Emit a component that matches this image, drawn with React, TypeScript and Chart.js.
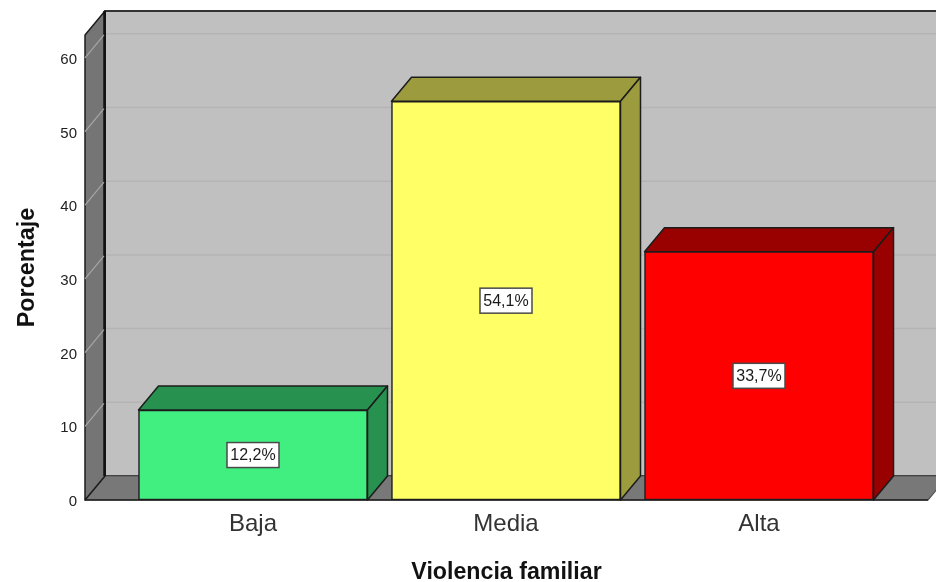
import React, { useEffect, useRef } from "react";
import { Chart, registerables } from "chart.js";

Chart.register(...registerables);

const categories = ["Baja", "Media", "Alta"];
const percentages = [12.2, 54.1, 33.7];
const percentLabels = ["12,2%", "54,1%", "33,7%"];
const frontColors = ["#41ee80", "#ffff66", "#ff0000"];
const sideColors = ["#27914f", "#9c9c3f", "#990000"];
const yTicks = [0, 10, 20, 30, 40, 50, 60];

const DX = 20;
const DY = 24;
const FONT = '"Liberation Sans", Arial, sans-serif';
const LINE = "#1c1c1c";

const poly = (ctx: CanvasRenderingContext2D, pts: number[][], fill: string, stroke = LINE, lw = 1.5) => {
  ctx.beginPath();
  pts.forEach((p, i) => (i ? ctx.lineTo(p[0], p[1]) : ctx.moveTo(p[0], p[1])));
  ctx.closePath();
  ctx.fillStyle = fill;
  ctx.fill();
  ctx.strokeStyle = stroke;
  ctx.lineWidth = lw;
  ctx.lineJoin = "round";
  ctx.stroke();
};

const box3d = {
  id: "box3d",
  beforeDatasetsDraw(chart: any) {
    const { ctx, chartArea: a, scales } = chart;
    const y = scales.y;
    ctx.save();
    // back wall
    poly(ctx, [[a.left + DX, a.top - DY], [a.right + DX, a.top - DY], [a.right + DX, a.bottom - DY], [a.left + DX, a.bottom - DY]], "#c0c0c0", "#333333", 2);
    // floor
    poly(ctx, [[a.left, a.bottom], [a.left + DX, a.bottom - DY], [a.right + DX, a.bottom - DY], [a.right, a.bottom]], "#787878", "#555555", 1.2);
    // left wall
    poly(ctx, [[a.left, a.top], [a.left + DX, a.top - DY], [a.left + DX, a.bottom - DY], [a.left, a.bottom]], "#757575");
    ctx.beginPath();
    ctx.moveTo(a.left + DX - 0.5, a.top - DY);
    ctx.lineTo(a.left + DX - 0.5, a.bottom - DY);
    ctx.lineWidth = 2.5;
    ctx.strokeStyle = "#111111";
    ctx.stroke();
    // gridlines
    yTicks.slice(1).forEach((v) => {
      const py = y.getPixelForValue(v);
      ctx.beginPath();
      ctx.moveTo(a.left + DX + 1, py - DY);
      ctx.lineTo(a.right + DX, py - DY);
      ctx.strokeStyle = "#b4b4b4";
      ctx.lineWidth = 1.5;
      ctx.stroke();
      ctx.beginPath();
      ctx.moveTo(a.left, py);
      ctx.lineTo(a.left + DX - 1, py - DY + 1);
      ctx.strokeStyle = "#a6a6a6";
      ctx.lineWidth = 1.2;
      ctx.stroke();
    });
    // bar depth faces
    const meta = chart.getDatasetMeta(0);
    meta.data.forEach((el: any, i: number) => {
      const l = el.x - el.width / 2;
      const r = el.x + el.width / 2;
      const t = el.y;
      const b = el.base;
      poly(ctx, [[l, t], [l + DX, t - DY], [r + DX, t - DY], [r, t]], sideColors[i]);
      poly(ctx, [[r, t], [r + DX, t - DY], [r + DX, b - DY], [r, b]], sideColors[i]);
    });
    ctx.restore();
  },
  afterDatasetsDraw(chart: any) {
    const { ctx, scales } = chart;
    const y = scales.y;
    const meta = chart.getDatasetMeta(0);
    ctx.save();
    ctx.font = `16px ${FONT}`;
    ctx.textAlign = "center";
    ctx.textBaseline = "middle";
    meta.data.forEach((el: any, i: number) => {
      const cy = y.getPixelForValue(percentages[i] / 2);
      const w = 52;
      const h = 25;
      ctx.fillStyle = "#ffffff";
      ctx.fillRect(el.x - w / 2, cy - h / 2, w, h);
      ctx.strokeStyle = "#4a4a4a";
      ctx.lineWidth = 1.5;
      ctx.strokeRect(el.x - w / 2, cy - h / 2, w, h);
      ctx.fillStyle = "#1a1a1a";
      ctx.fillText(percentLabels[i], el.x, cy + 0.5);
    });
    // front axis line
    const a = chart.chartArea;
    ctx.beginPath();
    ctx.moveTo(a.left, a.bottom);
    ctx.lineTo(a.right, a.bottom);
    ctx.strokeStyle = LINE;
    ctx.lineWidth = 1.5;
    ctx.stroke();
    ctx.restore();
  },
};

export default function App() {
  const ref = useRef<HTMLCanvasElement>(null);
  useEffect(() => {
    const chart = new Chart(ref.current as HTMLCanvasElement, {
      type: "bar",
      data: {
        datasets: [
          {
            data: percentages.map((v, i) => ({ x: i, y: v })),
            backgroundColor: frontColors,
            borderColor: LINE,
            borderWidth: 1.5,
            borderSkipped: false,
            barThickness: 229,
            clip: false,
          } as any,
        ],
      },
      options: {
        animation: false,
        responsive: false,
        devicePixelRatio: 1,
        layout: { padding: { top: 35, right: 8, left: 0, bottom: 0 } },
        plugins: { legend: { display: false }, tooltip: { enabled: false } },
        scales: {
          x: {
            type: "linear",
            offset: false,
            min: -0.664,
            max: 2.668,
            grid: { display: false, drawTicks: false },
            border: { display: false },
            afterFit: (s: any) => { s.height = 82; },
            afterBuildTicks: (s: any) => { s.ticks = categories.map((_, i) => ({ value: i })); },
            ticks: {
              padding: 10,
              autoSkip: false,
              maxRotation: 0,
              color: "#333333",
              font: { family: FONT, size: 24 },
              callback: (v: any) => categories[v],
            },
            title: {
              display: true,
              text: "Violencia familiar",
              color: "#111111",
              font: { family: FONT, size: 23.2, weight: "bold" },
              padding: { top: 0, bottom: -5 },
            },
          },
          y: {
            min: 0,
            max: 63.1,
            grid: { display: false, drawTicks: false },
            border: { display: false },
            afterFit: (s: any) => { s.width = 85; },
            afterBuildTicks: (s: any) => { s.ticks = yTicks.map((value) => ({ value })); },
            ticks: {
              padding: 8,
              labelOffset: 2,
              color: "#222222",
              font: { family: FONT, size: 15 },
            },
            title: {
              display: true,
              text: "Porcentaje",
              color: "#111111",
              font: { family: FONT, size: 23.4, weight: "bold" },
              padding: { top: 14, bottom: 0 },
            },
          },
        },
      } as any,
      plugins: [box3d],
    });
    return () => chart.destroy();
  }, []);
  return (
    <canvas
      ref={ref}
      width={936}
      height={582}
      style={{ position: "fixed", left: 0, top: 0, width: 936, height: 582, display: "block", background: "#ffffff" }}
    />
  );
}
